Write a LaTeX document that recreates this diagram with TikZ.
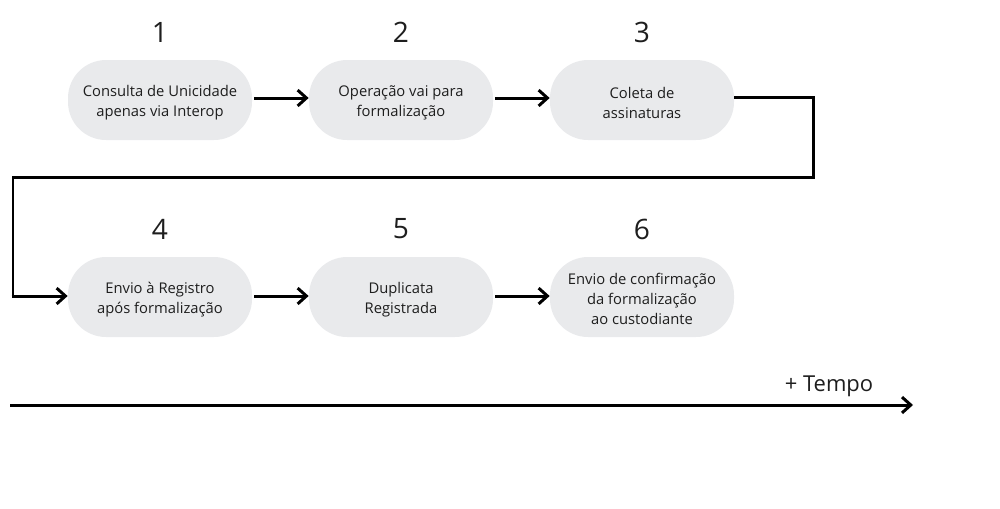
\documentclass[tikz,border=0pt]{standalone}
\usepackage{fontspec}
\setmainfont{Open Sans}
\usetikzlibrary{arrows.meta}
\definecolor{boxgray}{HTML}{E9EAEC}
\definecolor{ink}{HTML}{1E1E1E}
\newcommand{\boxtext}[2]{\parbox{3.6cm}{\centering\vspace*{#1}#2}}
\begin{document}
\begin{tikzpicture}[x=0.02cm,y=-0.02cm,
  stepbox/.style={fill=boxgray,draw=none,rounded corners=38*0.02cm,minimum width=184*0.02cm,minimum height=80*0.02cm,align=center,font=\fontsize{8.4}{11.3}\selectfont,text=ink,inner sep=0pt},
  num/.style={font=\fontsize{16}{18}\selectfont,text=ink},
  conn/.style={draw=black,line width=1.7pt,-{Straight Barb[length=5pt,width=9pt,line width=1.7pt]}},
  seg/.style={draw=black,line width=1.7pt}]
\useasboundingbox (0,0) rectangle (1000,508);
\node[stepbox] (b1) at (160,100) {\boxtext{3.4pt}{Consulta de Unicidade\\apenas via Interop}};
\node[stepbox] (b2) at (401,100) {\boxtext{3.4pt}{Operação vai para\\formalização}};
\node[stepbox] (b3) at (642,100) {\boxtext{3.4pt}{Coleta de\\assinaturas}};
\node[stepbox] (b4) at (160,297) {\boxtext{3.4pt}{Envio à Registro\\após formalização}};
\node[stepbox] (b5) at (401,297) {\boxtext{3.4pt}{Duplicata\\Registrada}};
\node[stepbox] (b6) at (642,297) {\boxtext{2.4pt}{Envio de confirmação\\da formalização\\ ao custodiante}};
\node[num] (n1) at (160,32) {1};
\node[num] (n2) at (401,32) {2};
\node[num] (n3) at (642,32) {3};
\node[num] (n4) at (160,229) {4};
\node[num] (n5) at (401,229) {5};
\node[num] (n6) at (642,229) {6};
\coordinate (r1) at (0,98);
\coordinate (r2) at (0,296);
\draw[conn] ([xshift=2*0.02cm]b1.east |- r1) -- (b2.west |- r1);
\draw[conn] ([xshift=2*0.02cm]b2.east |- r1) -- (b3.west |- r1);
\draw[conn] ([xshift=2*0.02cm]b4.east |- r2) -- (b5.west |- r2);
\draw[conn] ([xshift=2*0.02cm]b5.east |- r2) -- (b6.west |- r2);
\coordinate (c1) at (813,97);
\coordinate (c2) at (813,177);
\coordinate (c3) at (13,177);
\coordinate (c4) at (13,296);
\draw[seg,line join=miter] (b3.east |- c1) -- (c1) -- (c2) -- (c3) -- (c4);
\draw[conn] ([xshift=-0.8pt]c4) -- (b4.west |- c4);
\coordinate (t1) at (10,405);
\coordinate (t2) at (913,405);
\draw[conn] (t1) -- (t2);
\node[font=\fontsize{12.5}{14}\selectfont,text=ink] (tempo) at (829,386) {+ Tempo};
\end{tikzpicture}
\end{document}
